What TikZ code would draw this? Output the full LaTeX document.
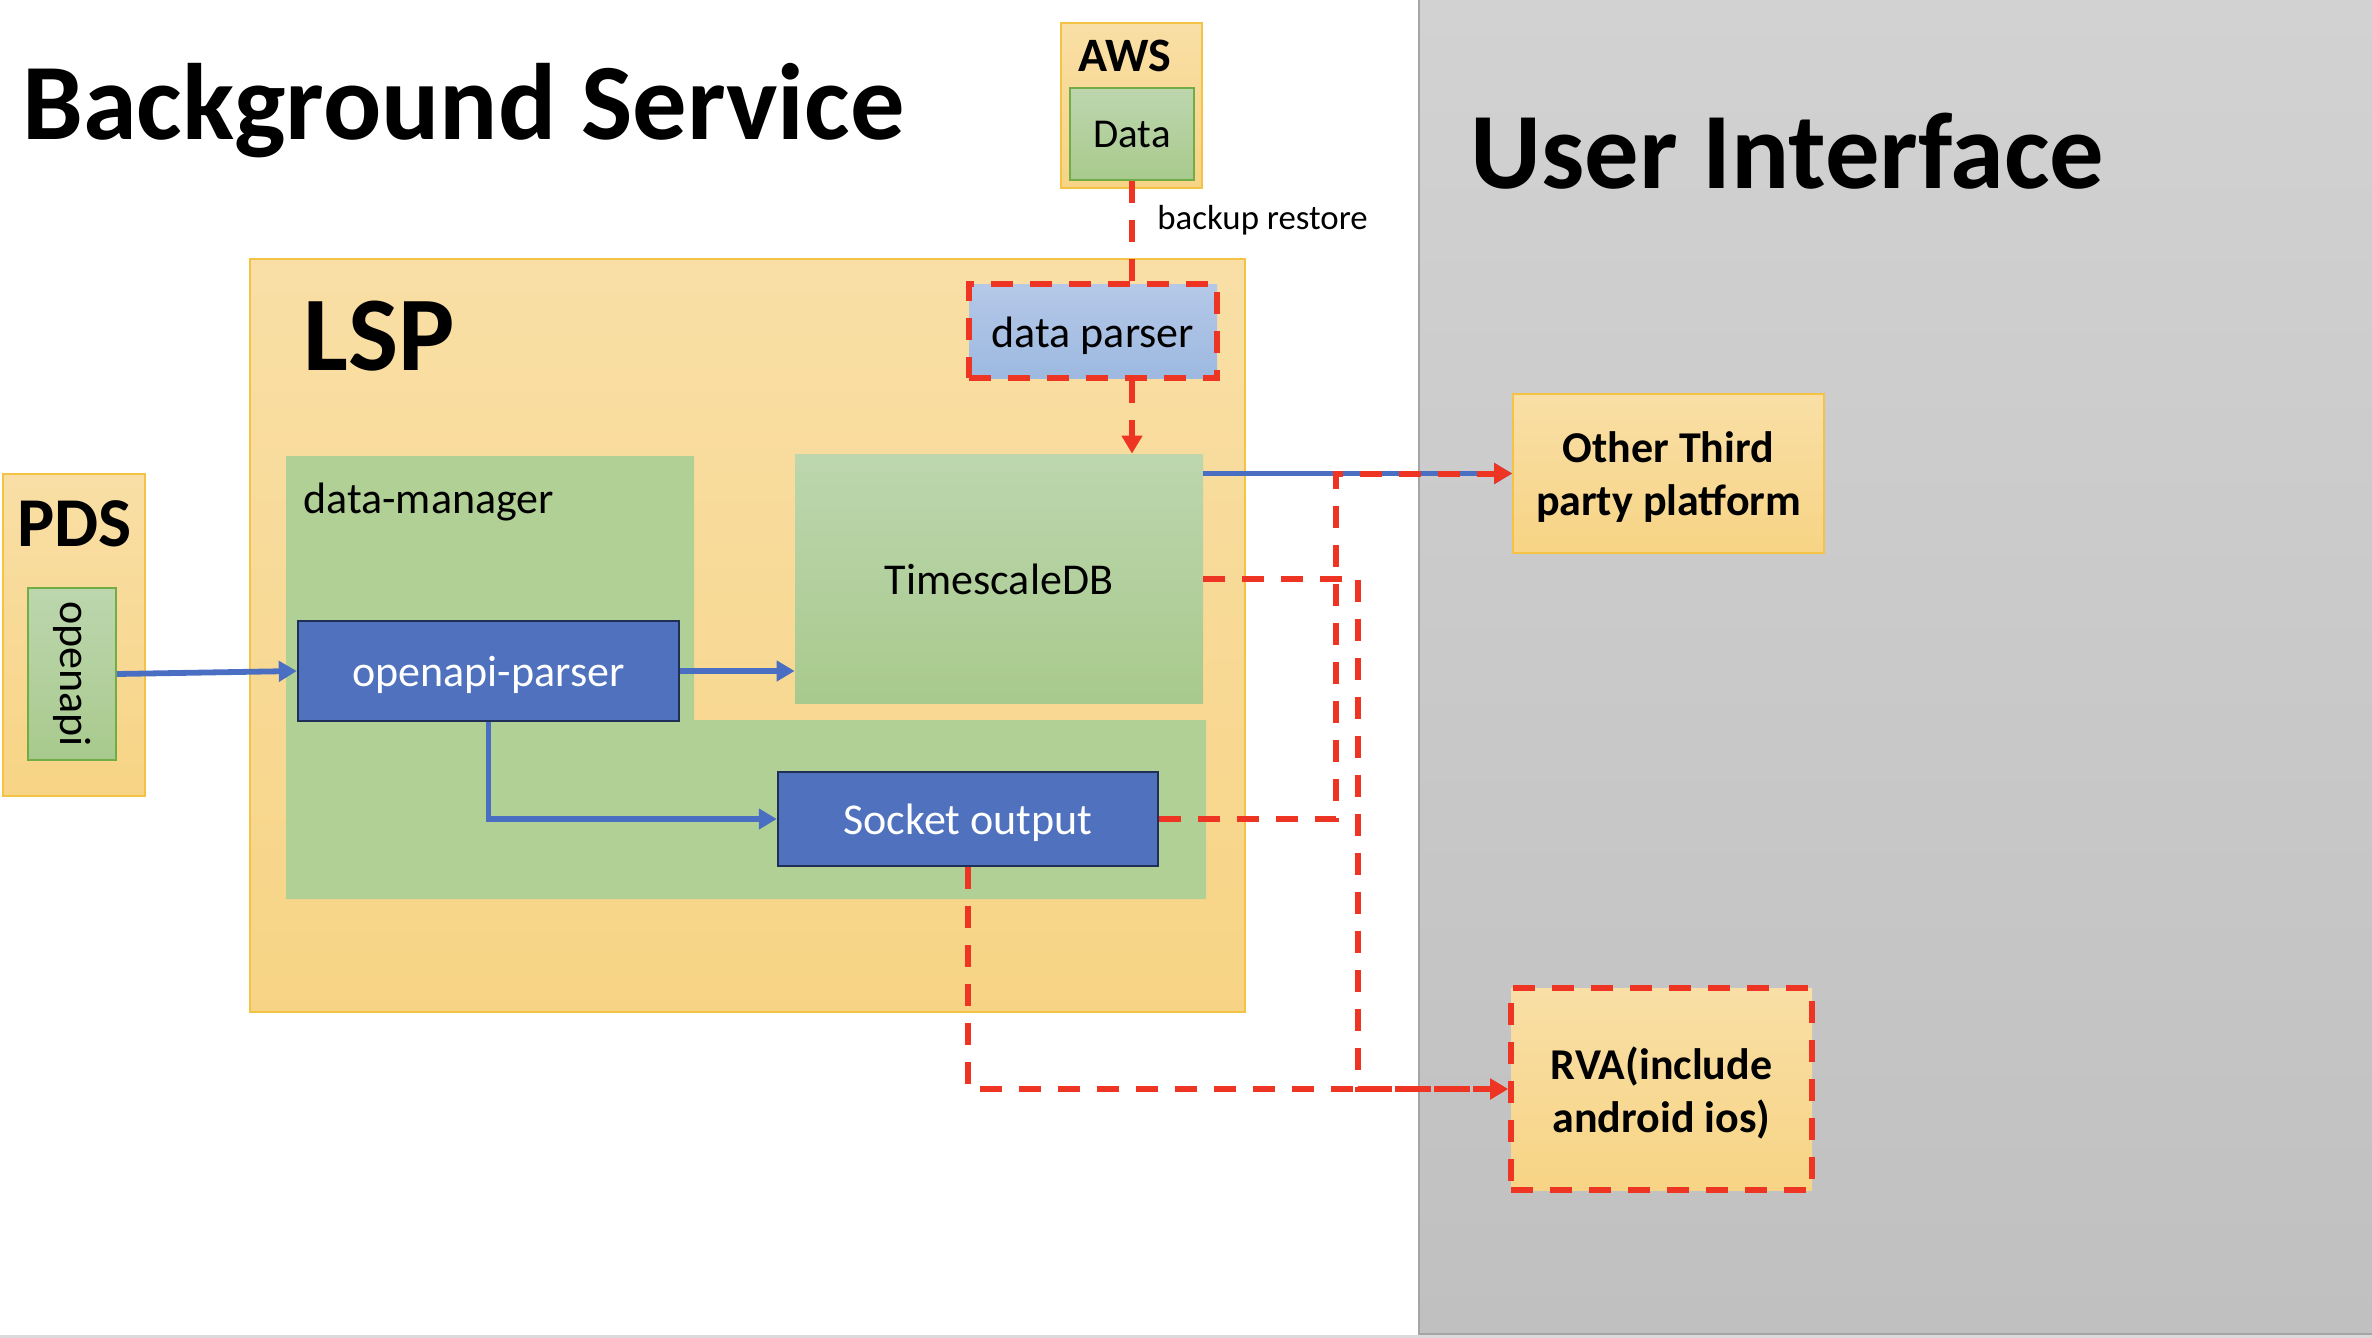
\documentclass[tikz,border=0pt]{standalone}
\usepackage{fontspec}
\setmainfont{Carlito}
\usetikzlibrary{arrows.meta}
\definecolor{orT}{HTML}{F9DFA6}
\definecolor{orB}{HTML}{F7D485}
\definecolor{boxborder}{HTML}{F4C245}
\definecolor{grT}{HTML}{BDD6AE}
\definecolor{grB}{HTML}{A8CA8D}
\definecolor{grborder}{HTML}{70AD47}
\definecolor{dmgreen}{HTML}{B1D096}
\definecolor{blueF}{HTML}{4F71BE}
\definecolor{navy}{HTML}{1F2F55}
\definecolor{dpT}{HTML}{B5C8E8}
\definecolor{dpB}{HTML}{9DB9E0}
\definecolor{redc}{HTML}{EE3524}
\definecolor{blueL}{HTML}{4A6FC2}
\definecolor{gyT}{HTML}{D2D2D2}
\definecolor{gyB}{HTML}{C0C0C0}
\definecolor{gyline}{HTML}{A5A5A5}
\definecolor{stripgray}{HTML}{DADADA}
\begin{document}
\begin{tikzpicture}[x=0.5pt,y=-0.5pt,
  orangebox/.style={draw=boxborder, line width=0.8pt, top color=orT, bottom color=orB, inner sep=0},
  greenbox/.style={top color=grT, bottom color=grB, inner sep=0},
  bluebox/.style={draw=navy, line width=1.2pt, fill=blueF, inner sep=0},
  reddash/.style={draw=redc, line width=3pt, dash pattern=on 11pt off 8.5pt},
  blueline/.style={draw=blueL, line width=2.9pt},
  tip/.style={-{Triangle[length=9pt,width=10pt]}},
  txt/.style={inner sep=0, font=\fontsize{22pt}{26.5pt}\selectfont},
  intext/.style={txt, yshift=-1.8pt},
  boldtxt/.style={inner sep=0, yshift=-2pt, align=center, font=\bfseries\fontsize{22pt}{26.5pt}\selectfont},
  title/.style={inner sep=0, anchor=base west, font=\bfseries\fontsize{54.3pt}{65pt}\selectfont}]
\useasboundingbox (0,0) rectangle (2372,1338);
\fill[white] (0,0) rectangle (2372,1338);
\fill[stripgray] (0,1335) rectangle (2372,1338);
\shade[top color=gyT, bottom color=gyB] (1419,0) rectangle (2372,1334);
\draw[gyline, line width=1pt] (1419,0) -- (1419,1334) -- (2372,1334);

% titles
\node[title] (bgtitle) at (22,140) {Background Service};
\node[title] (uititle) at (1470,188) {User Interface};

% LSP container
\node[orangebox, minimum width=497.5pt, minimum height=376.5pt] (lsp) at (747.5,635.5) {};
\node[inner sep=0, anchor=base west, font=\bfseries\fontsize{53pt}{64pt}\selectfont] (lsplabel) at (303,370) {LSP};

% data-manager region
\fill[dmgreen] (286,456) -- (694,456) -- (694,720) -- (1206,720) -- (1206,899) -- (286,899) -- cycle;
\node[txt, anchor=base west] (dm) at (303,513) {data-manager};

\node[greenbox, minimum width=204pt, minimum height=124.5pt] (tsdb) at (999,578.5) {};
\node[txt, yshift=-0.3pt] (tsdbtext) at (tsdb.center) {TimescaleDB};
\node[bluebox, minimum width=190.5pt, minimum height=50pt] (parser) at (488.5,671) {};
\node[intext, text=white] (parsertext) at (parser.center) {openapi-parser};
\node[bluebox, minimum width=190pt, minimum height=47pt] (socket) at (968,819) {};
\node[intext, text=white] (sockettext) at (socket.center) {Socket output};
\node[top color=dpT, bottom color=dpB, reddash, inner sep=0, minimum width=124pt, minimum height=47pt] (dparser) at (1093,331) {};
\node[intext, yshift=-0.6pt] (dparsertext) at (dparser.center) {data parser};

% AWS
\node[orangebox, minimum width=70.5pt, minimum height=82.5pt] (aws) at (1131.5,105.5) {};
\node[inner sep=0, anchor=base, font=\bfseries\fontsize{24pt}{29pt}\selectfont] (awslabel) at (1125,72) {AWS};
\node[greenbox, draw=grborder, line width=0.8pt, minimum width=62pt, minimum height=46pt, font=\fontsize{20.5pt}{25pt}\selectfont] (data) at (1132,134) {Data};

% PDS
\node[orangebox, minimum width=71pt, minimum height=161pt] (pds) at (74,635) {};
\node[inner sep=0, anchor=base, font=\bfseries\fontsize{35pt}{42pt}\selectfont] (pdslabel) at (74.5,546) {PDS};
\node[greenbox, draw=grborder, line width=0.8pt, minimum width=44pt, minimum height=86pt] (openapi) at (72,674) {};
\node[txt, rotate=-90] (openapitext) at (openapi.center) {openapi};

% user interface side
\node[orangebox, minimum width=155.5pt, minimum height=79.5pt] (other) at (1668.5,473.5) {};
\node[boldtxt] (othertext) at (other.center) {Other Third\\party platform};
\node[top color=orT, bottom color=orB, reddash, inner sep=0, minimum width=150.5pt, minimum height=101pt] (rva) at (1661.5,1089) {};
\node[boldtxt] (rvatext) at (rva.center) {RVA(include\\android ios)};

% blue connectors
\draw[blueline, tip] (openapi.east) -- (parser.west);
\draw[blueline, tip] (parser.east) -- (parser.east -| tsdb.west);
\draw[blueline, tip] (parser.south) |- (socket.west);
\draw[blueline, tip] (other.west -| tsdb.east) -- (other.west);

% red dashed connectors
\coordinate (j1) at (1336,819);
\coordinate (j2) at (1358,0);
\draw[reddash, tip] (socket.east) -- (j1) |- (other.west);
\draw[reddash, tip] (tsdb.east) -- (tsdb.east -| j2) |- (rva.west);
\draw[reddash, tip] (socket.south) |- (rva.west);
\draw[reddash] (data.south) -- (data.south |- dparser.north);
\draw[reddash, tip] (data.south |- dparser.south) -- (data.south |- tsdb.north);
\node[inner sep=0, anchor=base west, font=\fontsize{17.4pt}{21pt}\selectfont] (backup) at (1157,229) {backup restore};
\end{tikzpicture}
\end{document}
